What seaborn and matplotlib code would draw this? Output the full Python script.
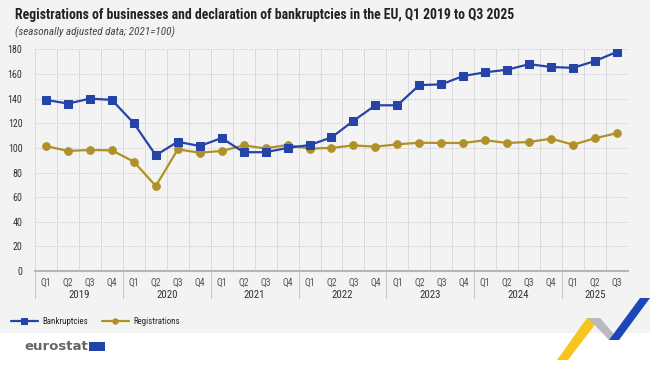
import matplotlib
matplotlib.use('Agg')
import matplotlib.pyplot as plt
import seaborn as sns
import pandas as pd
import numpy as np
from matplotlib.patches import Polygon, Rectangle
from matplotlib import font_manager

years = ['2019', '2020', '2021', '2022', '2023', '2024', '2025']
quarters_per_year = [4, 4, 4, 4, 4, 4, 3]
quarter_labels = ['Q1', 'Q2', 'Q3', 'Q4'] * 6 + ['Q1', 'Q2', 'Q3']

bankruptcies = [139, 136, 140, 139, 120, 94, 105, 101.5, 108, 96.5, 96.5, 100,
                102.3, 108.5, 122, 134.6, 134.6, 151, 151.6, 158.4, 161.4, 163.5,
                168, 165.7, 165, 170.6, 178]
registrations = [101.5, 97.5, 98.3, 98, 88.8, 69, 98.8, 96.1, 97.5, 102, 99.6, 102.4,
                 99.4, 100, 102, 101, 102.9, 104.2, 104, 104, 106.2, 104, 104.8, 107.5,
                 102.6, 107.8, 112]

BG = '#f3f3f3'
BLUE = '#2644a7'
GOLD = '#b09128'

sns.set_theme(style='white')
installed = {f.name for f in font_manager.fontManager.ttflist}
fams = [f for f in ['Roboto Condensed', 'Liberation Sans Narrow', 'Liberation Sans', 'DejaVu Sans']
        if f in installed]
plt.rcParams['font.family'] = fams

df = pd.DataFrame({
    'idx': list(range(len(quarter_labels))) * 2,
    'value': bankruptcies + registrations,
    'series': ['Bankruptcies'] * len(bankruptcies) + ['Registrations'] * len(registrations),
})

fig = plt.figure(figsize=(6.5, 3.65), dpi=100)
fig.patch.set_facecolor('white')
fig.patches.append(Rectangle((0, (365 - 333) / 365), 1, 1, transform=fig.transFigure,
                             facecolor=BG, edgecolor='none', zorder=-10))

ax = fig.add_axes([35 / 650, 1 - 271 / 365, (628 - 35) / 650, (271 - 49.4) / 365])
ax.set_facecolor(BG)

sns.lineplot(data=df[df.series == 'Bankruptcies'], x='idx', y='value', ax=ax, color=BLUE,
             marker='s', markersize=6, markeredgecolor=BLUE, linewidth=1.6, label='Bankruptcies',
             zorder=4)
sns.lineplot(data=df[df.series == 'Registrations'], x='idx', y='value', ax=ax, color=GOLD,
             marker='o', markersize=5.5, markeredgecolor=GOLD, linewidth=1.6, label='Registrations',
             zorder=3)

n = len(quarter_labels)
ax.set_xlim(-0.5, n - 0.5)
ax.set_ylim(0, 180)
ax.set_yticks(range(0, 181, 20))
ax.set_xticks(range(n))
ax.set_xticklabels(quarter_labels, fontsize=7, color='#555555')
ax.tick_params(axis='x', length=0, pad=5)
ax.tick_params(axis='y', length=0, pad=9, labelsize=7.2, labelcolor='#333333')
ax.set_xlabel('')
ax.set_ylabel('')

# grid: dotted horizontals, solid verticals at category boundaries
for v in range(20, 181, 20):
    ax.axhline(v, color='#c4c4c4', linestyle=(0, (1, 1.5)), linewidth=0.7, zorder=1)
for b in np.arange(-0.5, n, 1.0):
    ax.axvline(b, color='#dadada', linewidth=0.7, zorder=1)

for s in ['top', 'right', 'left']:
    ax.spines[s].set_visible(False)
ax.spines['bottom'].set_color('#b5b5b5')
ax.spines['bottom'].set_linewidth(1.5)

# year labels and separators
start = 0
sep_depth = -(298 - 271) / (271 - 49.4)
for yr, cnt in zip(years, quarters_per_year):
    ax.plot([start - 0.5, start - 0.5], [0, sep_depth], transform=ax.get_xaxis_transform(),
            color='#c4c4c4', linewidth=0.7, clip_on=False)
    ax.text(start + (cnt - 1) / 2, -(295 - 271) / (271 - 49.4), yr,
            transform=ax.get_xaxis_transform(), ha='center', va='center',
            fontsize=7.8, color='#333333')
    start += cnt

ax.legend(loc='center left', bbox_to_anchor=(-24 / 593, -(322 - 271) / (271 - 49.4)), ncol=2,
          frameon=False, fontsize=6.4, handlelength=3.0, columnspacing=1.6, handletextpad=0.5,
          markerscale=0.7, borderaxespad=0, borderpad=0)

title = fig.text(15 / 650, 1 - 15 / 365,
                 'Registrations of businesses and declaration of bankruptcies in the EU, Q1 2019 to Q3 2025',
                 fontsize=12, fontweight='bold', color='#222222', va='center', ha='left')
fig.text(15 / 650, 1 - 32 / 365, '(seasonally adjusted data; 2021=100)',
         fontsize=8, style='italic', color='#444444', va='center', ha='left')

# shrink the title so it spans the same width as in the reference
renderer = fig.canvas.get_renderer()
w = title.get_window_extent(renderer).width
if w > 500:
    title.set_fontsize(12 * 500 / w)

# eurostat logo
logo = fig.text(24 / 650, 1 - 346 / 365, 'eurostat', fontsize=9.5, fontweight='bold',
                family='DejaVu Sans', color='#666666', va='center', ha='left')
lw = logo.get_window_extent(renderer)
fig.patches.append(Rectangle(((lw.x1 + 1) / 650, 1 - 351 / 365), 16 / 650, 9 / 365,
                             transform=fig.transFigure, facecolor='#1f45a6', edgecolor='none'))

def fig_poly(pts, color, alpha=1.0):
    xy = [(x / 650, 1 - y / 365) for x, y in pts]
    fig.patches.append(Polygon(xy, closed=True, transform=fig.transFigure, facecolor=color,
                               edgecolor='none', alpha=alpha))

fig_poly([(557, 360), (587, 318), (600, 318), (568, 360)], '#f7c51e')
fig_poly([(588, 318), (600, 318), (619, 340), (609, 340)], '#b9b9bf')
fig_poly([(609, 340), (619, 340), (650, 298), (640, 298)], '#1c47b8')

fig.savefig('out.png', dpi=100, facecolor='white')
